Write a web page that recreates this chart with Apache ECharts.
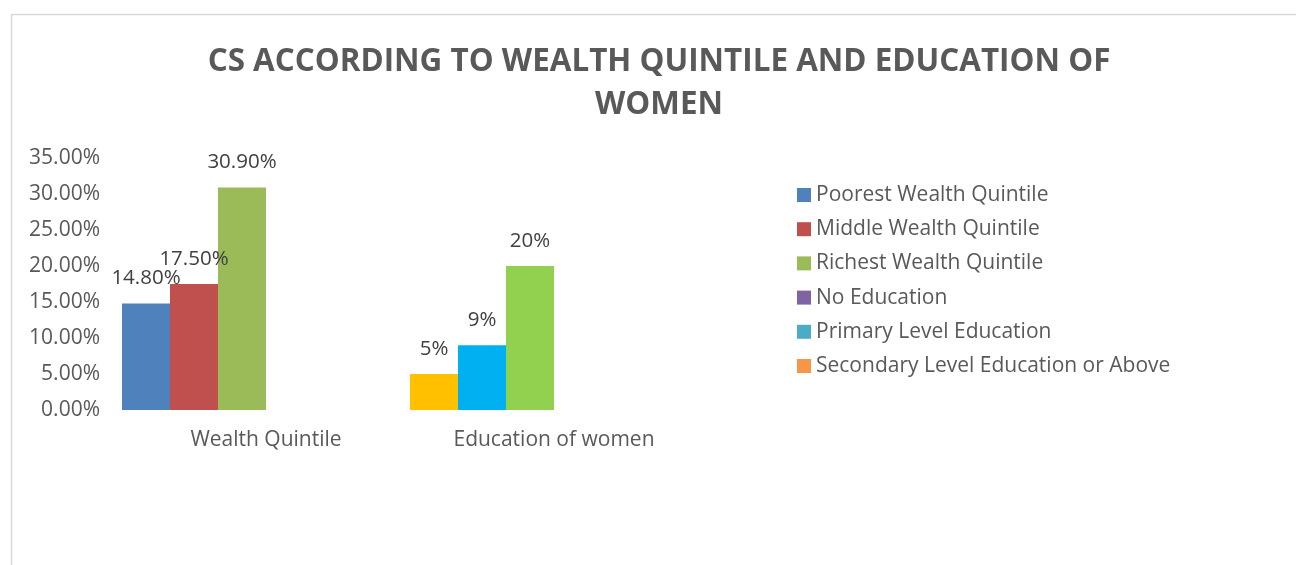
<!DOCTYPE html>
<html>
<head>
<meta charset="utf-8">
<script src="https://cdn.jsdelivr.net/npm/echarts@6/dist/echarts.min.js"></script>
<style>html,body{margin:0;padding:0;background:#fff;}#main{width:1296px;height:565px;}</style>
</head>
<body>
<div id="main"></div>
<script>
var categories = ['Wealth Quintile', 'Education of women'];
var seriesNames = ['Poorest Wealth Quintile', 'Middle Wealth Quintile', 'Richest Wealth Quintile', 'No Education', 'Primary Level Education', 'Secondary Level Education or Above'];
var wealthValues = [14.8, 17.5, 30.9];
var educationValues = [5, 9, 20];
var yTicks = [0, 5, 10, 15, 20, 25, 30, 35];

var legendColors = ['#4F81BD', '#C0504D', '#9BBB59', '#8064A2', '#4BACC6', '#F79646'];
var wealthColors = ['#4F81BD', '#C0504D', '#9BBB59'];
var educationColors = ['#FFC000', '#00B0F0', '#92D050'];

var FONT = '"Open Sans", sans-serif';

var series = seriesNames.map(function (name, i) {
  var data;
  if (i < 3) {
    data = [
      { value: wealthValues[i], itemStyle: { color: wealthColors[i] }, label: { formatter: function (p) { return p.value.toFixed(2) + '%'; } } },
      { value: educationValues[i], itemStyle: { color: educationColors[i] }, label: { formatter: function (p) { return p.value + '%'; } } }
    ];
  } else {
    data = [null, null];
  }
  return {
    name: name,
    type: 'bar',
    data: data,
    barGap: '0%',
    barCategoryGap: '0%',
    itemStyle: { color: legendColors[i] },
    label: {
      show: true,
      position: 'top',
      distance: 13,
      color: '#404040',
      fontFamily: FONT,
      fontSize: 20.5,
      lineHeight: 24
    },
    emphasis: { disabled: true }
  };
});

var chart = echarts.init(document.getElementById('main'));
chart.setOption({
  animation: false,
  title: {
    text: 'CS ACCORDING TO WEALTH QUINTILE AND EDUCATION OF\nWOMEN',
    left: 654,
    top: 36,
    textAlign: 'center',
    textStyle: {
      fontFamily: FONT,
      fontWeight: 'bold',
      fontSize: 31.4,
      lineHeight: 43,
      color: '#595959'
    }
  },
  graphic: [{
    type: 'rect',
    shape: { x: 11.5, y: 14.5, width: 1400, height: 700 },
    style: { fill: 'none', stroke: '#d9d9d9', lineWidth: 1.5 },
    silent: true
  }],
  legend: {
    orient: 'vertical',
    left: 797,
    top: 183,
    padding: 0,
    itemWidth: 14,
    itemHeight: 14,
    itemGap: 10.2,
    icon: 'rect',
    textStyle: { fontFamily: FONT, fontSize: 21, lineHeight: 24, color: '#595959' },
    data: seriesNames
  },
  grid: { left: 122, right: 598, top: 158, bottom: 155, containLabel: false },
  xAxis: {
    type: 'category',
    data: categories,
    axisLine: { show: false },
    axisTick: { show: false },
    axisLabel: { fontFamily: FONT, fontSize: 21, color: '#595959', margin: 20 }
  },
  yAxis: {
    type: 'value',
    min: yTicks[0],
    max: yTicks[yTicks.length - 1],
    interval: yTicks[1] - yTicks[0],
    axisLine: { show: false },
    axisTick: { show: false },
    splitLine: { show: false },
    axisLabel: { fontFamily: FONT, fontSize: 21, color: '#595959', margin: 22, formatter: function (v) { return v.toFixed(2) + '%'; } }
  },
  series: series
});
</script>
</body>
</html>
